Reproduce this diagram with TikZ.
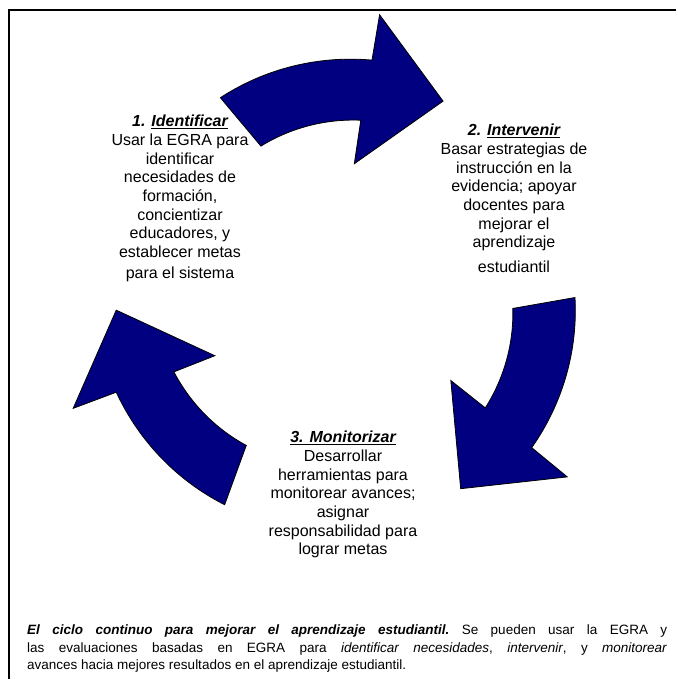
\documentclass[tikz,border=0pt]{standalone}
\usepackage{fontspec}
\setmainfont{Liberation Sans}
\definecolor{navyfill}{HTML}{000080}
\tikzset{
  arrowshape/.style={fill=navyfill, draw=black, line width=0.8pt, line join=miter},
  blocktext/.style={align=center, inner sep=0pt, anchor=north, font=\fontsize{16}{18.7}\selectfont},
  captext/.style={align=justify, text width=640pt, inner sep=0pt, anchor=north west, font=\fontsize{13.5}{17.5}\selectfont\frenchspacing},
  framestyle/.style={draw=black, line width=2pt}
}
\newcommand{\cyclearrowpath}{%
  plot[domain=120.6:82.4, samples=40] (\x:{235+7*(120.6-\x)/38.2})
  -- (82.1:288) -- (62.6:224) -- (84:137) -- (83.4:181)
  -- plot[domain=83.4:117.2, samples=40] (\x:{181-8*(\x-83.4)/33.8}) -- cycle}
\begin{document}
\begin{tikzpicture}[x=1pt, y=1pt]
  \useasboundingbox (0,0) rectangle (676,679);
  \fill[white] (0,0) rectangle (676,679);
  % frame
  \draw[framestyle] (8.5,0) -- (8.5,669) -- (676,669);
  % arrows
  \begin{scope}[shift={(340,379)}]
    \draw[arrowshape] \cyclearrowpath;
  \end{scope}
  \begin{scope}[shift={(340,379)}, rotate=-120]
    \draw[arrowshape] \cyclearrowpath;
  \end{scope}
  \begin{scope}[shift={(340,379)}, rotate=120]
    \draw[arrowshape] \cyclearrowpath;
  \end{scope}
  % text blocks
  \node[blocktext] (identificar) at (180,564) {\textbf{\textit{1. \underline{Identificar}}}\\
    Usar la EGRA para\\ identificar\\ necesidades de\\ formación,\\ concientizar\\ educadores, y\\ establecer metas\\[2.5pt] para el sistema};
  \node[blocktext] (intervenir) at (514,555) {\textbf{\textit{2. \underline{Intervenir}}}\\
    Basar estrategias de\\ instrucción en la\\ evidencia; apoyar\\ docentes para\\ mejorar el\\ aprendizaje\\[6pt] estudiantil};
  \node[blocktext] (monitorizar) at (343,248) {\textbf{\textit{\underline{3. Monitorizar}}}\\
    Desarrollar\\ herramientas para\\ monitorear avances;\\ asignar\\ responsabilidad para\\ lograr metas};
  % caption
  \node[captext] (caption) at (27,54) {\textbf{\textit{El ciclo continuo para mejorar el aprendizaje estudiantil.}} Se pueden usar la EGRA y\linebreak
    las evaluaciones basadas en EGRA para \textit{identificar necesidades}, \textit{intervenir}, y \textit{monitorear}\linebreak
    avances hacia mejores resultados en el aprendizaje estudiantil.};
\end{tikzpicture}
\end{document}
